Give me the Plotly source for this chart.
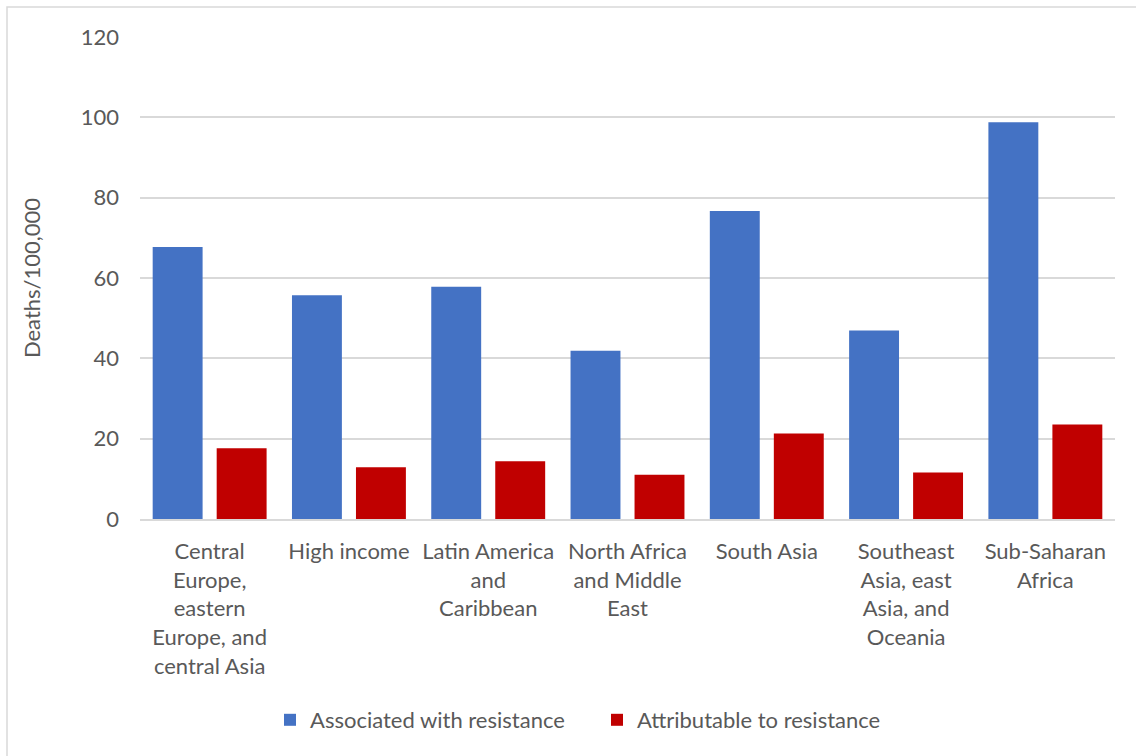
import plotly.graph_objects as go

# Regional death rates (per 100,000) associated with / attributable to resistance
regions = [
    "Central<br>Europe,<br>eastern<br>Europe, and<br>central Asia",
    "High income",
    "Latin America<br>and<br>Caribbean",
    "North Africa<br>and Middle<br>East",
    "South Asia",
    "Southeast<br>Asia, east<br>Asia, and<br>Oceania",
    "Sub-Saharan<br>Africa",
]
associated = [67.7, 55.7, 57.8, 41.9, 76.7, 46.9, 98.8]
attributable = [17.6, 12.9, 14.4, 11.0, 21.3, 11.6, 23.5]
y_ticks = [0, 20, 40, 60, 80, 100, 120]

FONT = "Lato"
TEXT_COLOR = "#595959"
GRID_COLOR = "#d9d9d9"

fig = go.Figure()
fig.add_trace(go.Bar(
    x=regions, y=associated, name="Associated with resistance",
    marker=dict(color="#4472C4", line=dict(width=0)),
))
fig.add_trace(go.Bar(
    x=regions, y=attributable, name="Attributable to resistance",
    marker=dict(color="#C00000", line=dict(width=0)),
))

fig.update_layout(
    width=1136, height=756,
    margin=dict(l=140, r=21, t=37, b=237),
    paper_bgcolor="white", plot_bgcolor="white",
    font=dict(family=FONT, size=22, color=TEXT_COLOR),
    barmode="group", bargap=0.081, bargroupgap=0.22,
    showlegend=True,
    legend=dict(
        orientation="h", xref="container", x=270 / 1136, xanchor="left",
        yref="container", y=36 / 756, yanchor="middle",
        font=dict(family=FONT, size=22, color=TEXT_COLOR),
        traceorder="normal", entrywidth=282, entrywidthmode="pixels",
    ),
    xaxis=dict(
        showgrid=False, showline=True, linecolor=GRID_COLOR, linewidth=1.5,
        ticks="", tickangle=0, ticklabelstandoff=12,
        tickfont=dict(family=FONT, size=22, color=TEXT_COLOR),
    ),
    yaxis=dict(
        range=[0, 120], tickvals=y_ticks, showgrid=True,
        gridcolor=GRID_COLOR, gridwidth=1.5, zeroline=False,
        showline=False, ticks="", ticklabelstandoff=20,
        tickfont=dict(family=FONT, size=22, color=TEXT_COLOR),
        title=dict(text="Deaths/100,000", standoff=34,
                   font=dict(family=FONT, size=22, color=TEXT_COLOR)),
    ),
    shapes=[dict(
        type="rect", xref="paper", yref="paper",
        x0=(7 - 140) / 975, x1=1.2, y0=-0.7, y1=(519 - 7) / 482,
        line=dict(color=GRID_COLOR, width=1.5), fillcolor="rgba(0,0,0,0)",
        layer="below",
    )],
)

fig.write_html("out.html")
